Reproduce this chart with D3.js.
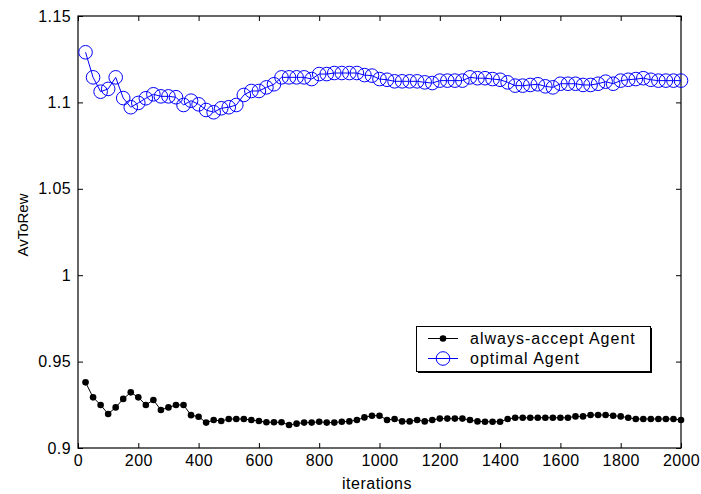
<!DOCTYPE html>
<html><head><meta charset="utf-8">
<script src="https://cdn.jsdelivr.net/npm/d3@7"></script>
<style>body{margin:0;background:#fff;} text{font-family:"Liberation Sans",Arial,sans-serif;}</style>
</head><body>
<svg id="c" width="701" height="494"></svg>
<script>
const iterations = d3.range(25, 2001, 25);
const alwaysAccept = [
0.938,0.9293,0.9249,0.9197,0.9235,0.9284,0.9322,0.9293,0.9249,0.9278,
0.922,0.9235,0.9249,0.9249,0.919,0.9181,0.9147,0.9162,0.9156,0.9168,
0.9168,0.9168,0.9162,0.9156,0.9149,0.9149,0.9149,0.9133,0.9141,0.9147,
0.9147,0.9152,0.9147,0.9147,0.9152,0.9154,0.9162,0.9177,0.9187,0.9187,
0.9162,0.9168,0.9154,0.9154,0.9162,0.9154,0.9162,0.917,0.917,0.917,
0.917,0.9162,0.9154,0.9152,0.9152,0.9152,0.9168,0.9175,0.9175,0.9175,
0.9175,0.9175,0.9175,0.9175,0.9175,0.9183,0.9183,0.9191,0.9191,0.9191,
0.9187,0.9183,0.9175,0.9168,0.9168,0.9168,0.9168,0.9168,0.9168,0.9162];
const optimal = [
1.129,1.1145,1.1062,1.1078,1.1145,1.1025,1.0972,1.0997,1.1024,1.1047,
1.1035,1.1035,1.103,1.0985,1.101,1.0989,1.0956,1.0943,1.0966,1.0972,
1.0985,1.1043,1.1066,1.1066,1.1087,1.1105,1.1145,1.1145,1.1145,1.1145,
1.1135,1.1164,1.1164,1.117,1.117,1.117,1.117,1.1158,1.1155,1.1135,
1.1131,1.1122,1.1122,1.1122,1.1122,1.1116,1.1112,1.1126,1.1126,1.1126,
1.1126,1.1145,1.114,1.114,1.1135,1.1131,1.1116,1.1097,1.1097,1.1101,
1.1105,1.1093,1.1087,1.1108,1.1108,1.1108,1.1101,1.1101,1.1108,1.112,
1.1108,1.1126,1.1131,1.1135,1.114,1.1131,1.1126,1.1126,1.1126,1.1126];
const xTicks = [0,200,400,600,800,1000,1200,1400,1600,1800,2000];
const yTicks = [0.9,0.95,1,1.05,1.1,1.15];
const seriesNames = ["always-accept Agent","optimal Agent"];

const L=78, R=681, T=16, B=448;
const svg = d3.select("#c");
const x = d3.scaleLinear().domain([0,2000]).range([L,R]);
const y = d3.scaleLinear().domain([0.9,1.15]).range([B,T]);
const fs = 16;

const tl = 5;
svg.append("g").attr("transform",`translate(0,${B})`)
  .call(d3.axisBottom(x).tickValues(xTicks).tickSizeInner(-tl).tickSizeOuter(0).tickPadding(7).tickFormat(d3.format("d")))
  .call(g=>{g.select(".domain").remove();g.selectAll("text").attr("font-size",fs).attr("fill","#000").attr("letter-spacing",0.4).attr("font-family","Liberation Sans, Arial, sans-serif");});
svg.append("g").attr("transform",`translate(0,${T})`)
  .call(d3.axisTop(x).tickValues(xTicks).tickSizeInner(-tl).tickSizeOuter(0).tickFormat(""))
  .call(g=>g.select(".domain").remove());
svg.append("g").attr("transform",`translate(${L},0)`)
  .call(d3.axisLeft(y).tickValues(yTicks).tickSizeInner(-tl).tickSizeOuter(0).tickPadding(7).tickFormat(d=>String(d)))
  .call(g=>{g.select(".domain").remove();g.selectAll("text").attr("font-size",fs).attr("fill","#000").attr("letter-spacing",0.4).attr("font-family","Liberation Sans, Arial, sans-serif");});
svg.append("g").attr("transform",`translate(${R},0)`)
  .call(d3.axisRight(y).tickValues(yTicks).tickSizeInner(-tl).tickSizeOuter(0).tickFormat(""))
  .call(g=>g.select(".domain").remove());
svg.append("rect").attr("x",L).attr("y",T).attr("width",R-L).attr("height",B-T)
  .attr("fill","none").attr("stroke","#000").attr("stroke-width",1.2);

const line = d3.line().x((d,i)=>x(iterations[i])).y(d=>y(d));
svg.append("path").datum(alwaysAccept).attr("d",line).attr("fill","none").attr("stroke","#000").attr("stroke-width",1);
svg.append("g").selectAll("circle").data(alwaysAccept).join("circle")
  .attr("cx",(d,i)=>x(iterations[i])).attr("cy",d=>y(d)).attr("r",3.3).attr("fill","#000");
svg.append("path").datum(optimal).attr("d",line).attr("fill","none").attr("stroke","#0000ff").attr("stroke-width",1);
svg.append("g").selectAll("circle").data(optimal).join("circle")
  .attr("cx",(d,i)=>x(iterations[i])).attr("cy",d=>y(d)).attr("r",6.8).attr("fill","none").attr("stroke","#0000ff").attr("stroke-width",1);

// labels
svg.append("text").attr("x",377).attr("y",489).attr("text-anchor","middle").attr("font-size",fs).attr("letter-spacing",0.5).text("iterations");
svg.append("text").attr("transform",`translate(28,225) rotate(-90)`).attr("text-anchor","middle").attr("font-size",15).text("AvToRew");

// legend
const lg = svg.append("g");
lg.append("rect").attr("x",418).attr("y",328).attr("width",234).attr("height",45).attr("fill","#000");
lg.append("rect").attr("x",416.5).attr("y",326.5).attr("width",234).attr("height",45).attr("fill","#fff").attr("stroke","#000").attr("stroke-width",1);
const rows = [338.5,358.5];
lg.append("line").attr("x1",428).attr("x2",458).attr("y1",rows[0]).attr("y2",rows[0]).attr("stroke","#000");
lg.append("circle").attr("cx",443).attr("cy",rows[0]).attr("r",3.3).attr("fill","#000");
lg.append("line").attr("x1",428).attr("x2",458).attr("y1",rows[1]).attr("y2",rows[1]).attr("stroke","#0000ff");
lg.append("circle").attr("cx",443).attr("cy",rows[1]).attr("r",6.8).attr("fill","none").attr("stroke","#0000ff");
seriesNames.forEach((n,i)=>{
  lg.append("text").attr("x",470).attr("y",rows[i]).attr("dy","0.35em").attr("font-size",fs).attr("letter-spacing",1.0).text(n);
});
</script>
</body></html>
